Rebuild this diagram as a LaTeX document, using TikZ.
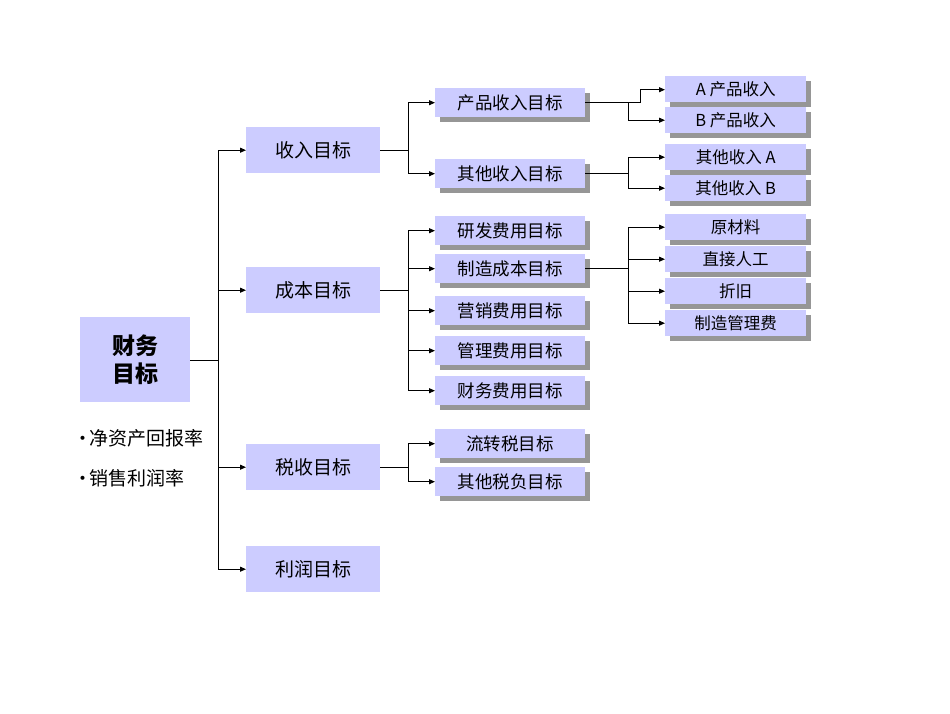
\documentclass[tikz,border=0pt]{standalone}
\usepackage{fontspec}
\setmainfont{Noto Sans CJK SC}
\usetikzlibrary{arrows.meta,shadows}
\definecolor{boxc}{RGB}{204,204,255}
\definecolor{shc}{RGB}{150,150,150}
\begin{document}
\begin{tikzpicture}[x=1pt,y=-1pt,
  bx/.style={fill=boxc,inner sep=0pt,anchor=north west},
  sbx/.style={bx,drop shadow={fill=shc,shadow xshift=5pt,shadow yshift=-5pt,opacity=1}},
  ln/.style={line width=1pt},
  ar/.style={ln,-{Triangle[length=6pt,width=5pt]}}]
\path[use as bounding box] (0,0) rectangle (950,713);
% root
\node[bx,minimum width=110,minimum height=85,font=\fontsize{23}{28}\selectfont\bfseries,align=center] (r) at (80,317) {财务\\目标};
\node[anchor=west,font=\fontsize{19}{20}\selectfont] (t1) at (70,438) {•\kern-3pt 净资产回报率};
\node[anchor=west,font=\fontsize{19}{20}\selectfont] (t2) at (70,478) {•\kern-3pt 销售利润率};
% level1
\begin{scope}[every node/.style={bx,minimum width=134,minimum height=46,font=\fontsize{19}{20}\selectfont}]
\node (a) at (246,127) {收入目标};
\node (b) at (246,267) {成本目标};
\node (c) at (246,444) {税收目标};
\node (d) at (246,546) {利润目标};
\end{scope}
% level2
\begin{scope}[every node/.style={sbx,minimum width=150,minimum height=29,font=\fontsize{17.5}{19}\selectfont}]
\node (a1) at (435,88) {产品收入目标};
\node (a2) at (435,159) {其他收入目标};
\node (b1) at (435,216) {研发费用目标};
\node (b2) at (435,254) {制造成本目标};
\node (b3) at (435,296) {营销费用目标};
\node (b4) at (435,336) {管理费用目标};
\node (b5) at (435,376) {财务费用目标};
\node (c1) at (435,429) {流转税目标};
\node (c2) at (435,467) {其他税负目标};
\end{scope}
% level3
\begin{scope}[every node/.style={sbx,minimum width=141,minimum height=26,font=\fontsize{16.5}{18}\selectfont}]
\node (p1) at (665,76) {A 产品收入};
\node (p2) at (665,107) {B 产品收入};
\node (q1) at (665,144) {其他收入 A};
\node (q2) at (665,175) {其他收入 B};
\node (m1) at (665,214) {原材料};
\node (m2) at (665,246) {直接人工};
\node (m3) at (665,278) {折旧};
\node (m4) at (665,310) {制造管理费};
\end{scope}
% connectors
\coordinate (j0) at (218,360);
\draw[ln] (r.east|-j0) -- (j0);
\foreach \n in {a,b,c,d} \draw[ar] (j0) |- (\n.west);
\foreach \p/\cs in {a/{a1,a2},b/{b1,b2,b3,b4,b5},c/{c1,c2}}{
  \draw[ln] (\p.east) -- ++(28,0) coordinate (j\p);
  \foreach \ch in \cs \draw[ar] (j\p) |- (\ch.west);
}
\draw[ln] (a1.east) -- ++(55,0) coordinate (ja1) -- ++(0,-13) coordinate (ja1b);
\draw[ar] (ja1b) -- (p1.west|-ja1b);
\draw[ar] ([xshift=43]a1.east) |- (p2.west);
\draw[ln] (a2.east) -- ++(43,0) coordinate (ja2);
\draw[ar] (ja2) |- (q1.west);
\draw[ar] (ja2) |- (q2.west);
\draw[ln] (b2.east) -- ++(43,0) coordinate (jb2);
\foreach \ch in {m1,m2,m3,m4} \draw[ar] (jb2) |- (\ch.west);
\end{tikzpicture}
\end{document}
